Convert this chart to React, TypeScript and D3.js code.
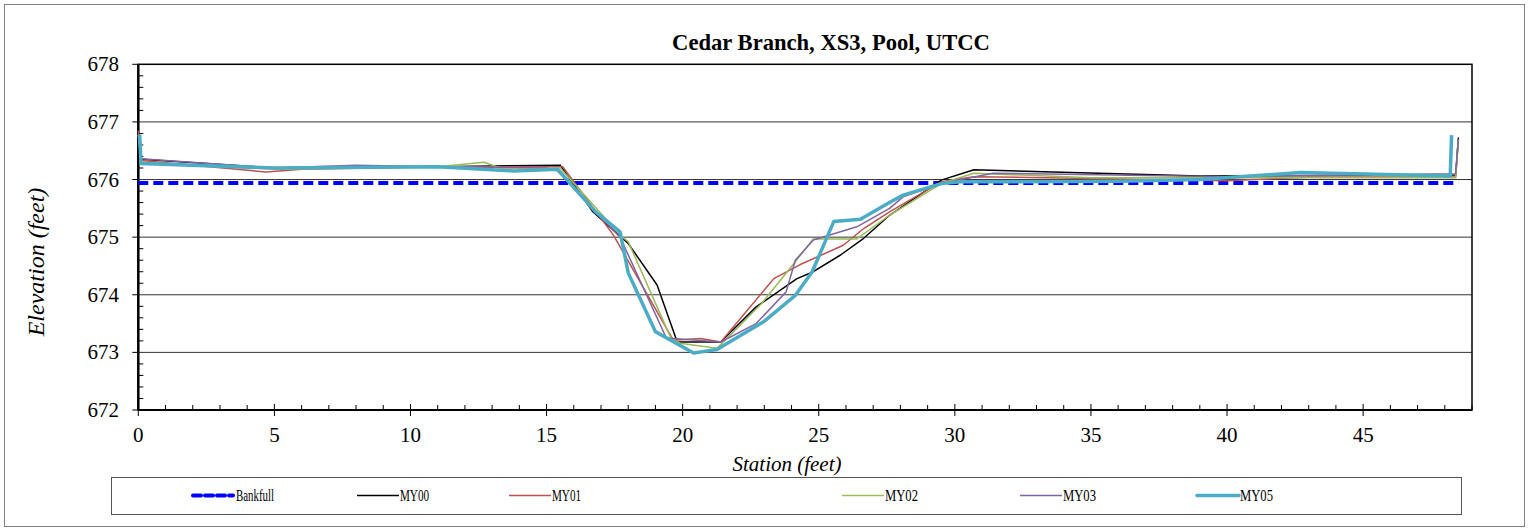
import React from "react";
import * as d3 from "d3";

type P = [number, number];

const title = "Cedar Branch, XS3, Pool, UTCC";
const xTicks = [0, 5, 10, 15, 20, 25, 30, 35, 40, 45];
const yTicks = [672, 673, 674, 675, 676, 677, 678];

const bankfull: P[] = [[0, 675.94], [48.5, 675.94]];

const my00: P[] = [[0, 676.78], [0.1, 676.35], [5, 676.2], [11, 676.22], [15.5, 676.25], [16.7, 675.44], [18.0, 674.89], [19.06, 674.17], [19.8, 673.18], [21.4, 673.18], [22.7, 673.79], [24.2, 674.28], [24.8, 674.4], [25.8, 674.69], [26.65, 674.98], [27.6, 675.38], [29.5, 675.99], [30.7, 676.17], [39, 676.06], [48.4, 676.08], [48.5, 676.73]];

const my01: P[] = [[0, 676.85], [0.1, 676.33], [4.7, 676.13], [6, 676.18], [11, 676.22], [15.6, 676.22], [17.45, 675.04], [19.66, 673.21], [20.65, 673.24], [21.4, 673.18], [23.35, 674.28], [24.3, 674.52], [25.9, 674.86], [26.65, 675.15], [27.6, 675.44], [29.5, 675.96], [30.7, 676.05], [40, 675.98], [43, 676.04], [48.4, 676.05], [48.5, 676.7]];

const my02: P[] = [[0, 676.78], [0.1, 676.3], [5, 676.18], [11, 676.22], [12.7, 676.3], [13.3, 676.2], [15.5, 676.2], [17.7, 675.04], [18.0, 674.92], [19.55, 673.27], [19.9, 673.16], [21.26, 673.07], [22.9, 673.85], [24.08, 674.54], [24.8, 674.97], [26.4, 674.97], [27.6, 675.38], [29.5, 675.93], [30.7, 676.11], [35, 676.03], [48.4, 676.03], [48.5, 676.7]];

const my03: P[] = [[0, 676.78], [0.1, 676.36], [5, 676.2], [8, 676.25], [11, 676.22], [15.0, 676.2], [15.4, 676.15], [17.7, 675.0], [19.4, 673.25], [21.4, 673.18], [22.7, 673.5], [23.8, 674.05], [24.14, 674.6], [24.8, 674.95], [26.4, 675.18], [27.6, 675.5], [28.1, 675.7], [29.5, 675.93], [31.4, 676.11], [40, 676.05], [48.4, 676.1], [48.5, 676.7]];

const my05: P[] = [[0.05, 676.78], [0.1, 676.28], [5, 676.2], [11, 676.22], [13.8, 676.15], [15.4, 676.18], [16.8, 675.44], [17.7, 675.09], [18.0, 674.38], [19.0, 673.36], [20.4, 672.99], [21.26, 673.05], [22.97, 673.53], [24.14, 673.99], [24.76, 674.4], [25.55, 675.27], [26.53, 675.31], [27.63, 675.61], [28.1, 675.73], [29.5, 675.93], [30.2, 675.96], [36, 675.97], [39, 676.0], [42.7, 676.12], [48.2, 676.06], [48.25, 676.77]];

const series = [
  { name: "Bankfull", data: bankfull, color: "#0000FF", width: 4, dash: "10,5" },
  { name: "MY00", data: my00, color: "#000000", width: 1.5, dash: "" },
  { name: "MY01", data: my01, color: "#C0504D", width: 1.5, dash: "" },
  { name: "MY02", data: my02, color: "#9BBB59", width: 1.5, dash: "" },
  { name: "MY03", data: my03, color: "#8064A2", width: 1.5, dash: "" },
  { name: "MY05", data: my05, color: "#4BACC6", width: 3.5, dash: "" },
];

const legendX = [193, 357, 509, 842, 1020, 1197];
const legendTextLen = [38, 29, 29, 33, 33, 33];

const FONT = "'Times New Roman', 'Liberation Serif', Tinos, 'DejaVu Serif', serif";

export default function App() {
  const W = 1529, H = 531;
  const x = d3.scaleLinear().domain([0, 49]).range([138.3, 1472]);
  const y = d3.scaleLinear().domain([672, 678]).range([410, 64.3]);
  const line = d3.line<P>().x(d => x(d[0])).y(d => y(d[1]));
  const minorX = d3.range(0, 50, 1).filter(v => v % 5 !== 0);
  const minorY = d3.range(672, 678.001, 0.2).filter(v => Math.abs(v - Math.round(v)) > 0.01);
  const ts = { fontFamily: FONT };
  return (
    <svg width={W} height={H} style={{ position: "absolute", left: 0, top: 0, fontFamily: FONT }}>
      <rect x={0} y={0} width={W} height={H} fill="#fff" />
      <rect x={4.5} y={4.5} width={1520} height={522} fill="none" stroke="#808080" strokeWidth={1} />
      <text x={831} y={50} textAnchor="middle" fontWeight="bold" fontSize={22.6} style={ts}>{title}</text>
      {yTicks.slice(1, -1).map(v => (
        <line key={v} x1={x(0)} x2={x(49)} y1={y(v)} y2={y(v)} stroke="#333" strokeWidth={1} />
      ))}
      <rect x={x(0)} y={y(678)} width={x(49) - x(0)} height={y(672) - y(678)} fill="none" stroke="#000" strokeWidth={1.5} />
      {yTicks.map(v => (
        <g key={v}>
          <line x1={x(0) - 6} x2={x(0)} y1={y(v)} y2={y(v)} stroke="#000" strokeWidth={1} />
          <text x={119} y={y(v) + 7} textAnchor="end" fontSize={21} style={ts}>{v}</text>
        </g>
      ))}
      {minorY.map((v, i) => (
        <line key={i} x1={x(0)} x2={x(0) + 5} y1={y(v)} y2={y(v)} stroke="#000" strokeWidth={1} />
      ))}
      {xTicks.map(v => (
        <g key={v}>
          <line x1={x(v)} x2={x(v)} y1={y(672) - 6} y2={y(672) + 6} stroke="#000" strokeWidth={1} />
          <text x={x(v)} y={442} textAnchor="middle" fontSize={21} style={ts}>{v}</text>
        </g>
      ))}
      {minorX.map(v => (
        <line key={v} x1={x(v)} x2={x(v)} y1={y(672) - 5} y2={y(672)} stroke="#000" strokeWidth={1} />
      ))}
      <line x1={x(0)} x2={x(0)} y1={y(678)} y2={y(672)} stroke="#000" strokeWidth={2.5} />
      <line x1={x(0)} x2={x(49)} y1={y(672)} y2={y(672)} stroke="#000" strokeWidth={2} />
      {series.map(s => (
        <path key={s.name} d={line(s.data) || ""} fill="none" stroke={s.color} strokeWidth={s.width}
          strokeDasharray={s.dash || undefined} strokeLinejoin="round" />
      ))}
      <text x={787} y={471} textAnchor="middle" fontStyle="italic" fontSize={21} style={ts}>Station (feet)</text>
      <text transform="translate(44,262) rotate(-90)" textAnchor="middle" fontStyle="italic" fontSize={24} style={ts}>Elevation (feet)</text>
      <rect x={111.5} y={477.5} width={1350} height={37} fill="#fff" stroke="#555" strokeWidth={1} />
      {series.map((s, i) => (
        <g key={s.name}>
          <line x1={legendX[i]} x2={legendX[i] + (i === 0 ? 40 : 42)} y1={495.5} y2={495.5} stroke={s.color}
            strokeWidth={s.width} strokeDasharray={s.dash ? "8,4" : undefined} strokeLinecap={s.width > 3 ? "round" : "butt"} />
          <text x={legendX[i] + 43} y={501} fontSize={16} textLength={legendTextLen[i]} lengthAdjust="spacingAndGlyphs" style={ts}>{s.name}</text>
        </g>
      ))}
    </svg>
  );
}
